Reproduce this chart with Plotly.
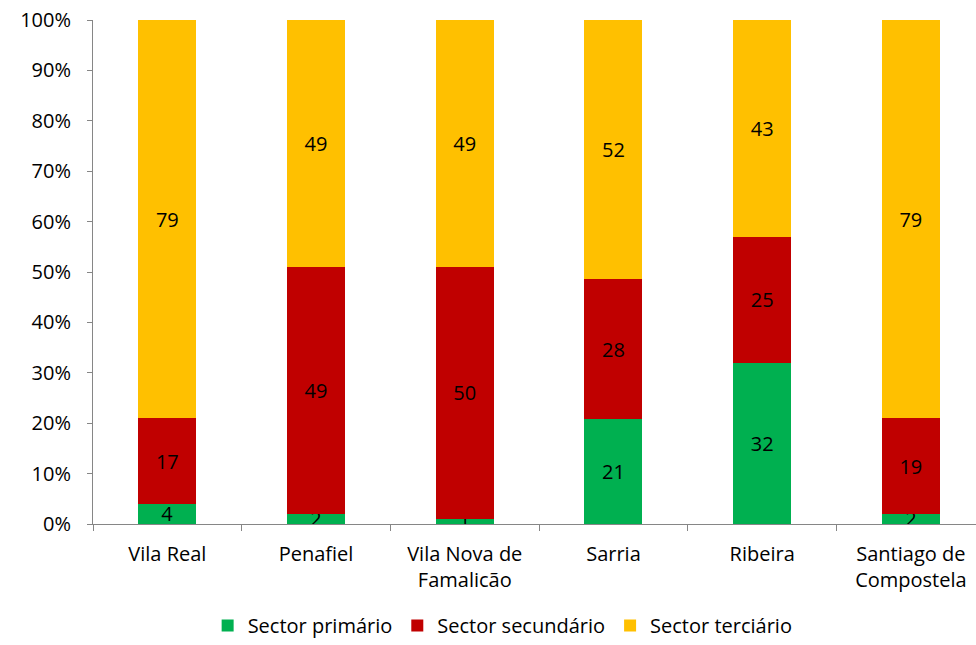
import plotly.graph_objects as go

categories = ["Vila Real", "Penafiel", "Vila Nova de<br>Famalicão", "Sarria", "Ribeira", "Santiago de<br>Compostela"]
primario = [4, 2, 1, 21, 32, 2]
secundario = [17, 49, 50, 28, 25, 19]
terciario = [79, 49, 49, 52, 43, 79]

series = [
    ("Sector primário", primario, "#00B050"),
    ("Sector secundário", secundario, "#C00000"),
    ("Sector terciário", terciario, "#FFC000"),
]

FONT = "Open Sans"
fig = go.Figure()
for name, vals, col in series:
    fig.add_trace(go.Bar(
        x=categories, y=vals, name=name, marker=dict(color=col, line=dict(width=0)),
        text=[str(v) for v in vals], textposition="inside", insidetextanchor="middle",
        textangle=0, constraintext="none",
        textfont=dict(family=FONT, size=20, color="#000000"), width=0.39,
    ))

fig.update_layout(
    barmode="stack", barnorm="percent",
    width=976, height=645,
    margin=dict(l=93, r=0, t=20, b=121, autoexpand=False),
    paper_bgcolor="white", plot_bgcolor="white",
    font=dict(family=FONT, size=20, color="#000000"),
    uniformtext=dict(minsize=20, mode="show"),
    showlegend=True,
    legend=dict(orientation="h", xref="container", yref="container",
                x=0.515, xanchor="center", y=0.0, yanchor="bottom",
                font=dict(family=FONT, size=20), traceorder="normal", itemwidth=30),
    xaxis=dict(range=[-0.5, 5.438], showline=True, linecolor="#868686", linewidth=1,
               ticks="outside", tickson="boundaries", ticklen=6, tickcolor="#868686",
               tickfont=dict(family=FONT, size=20), showgrid=False, ticklabelstandoff=12),
    yaxis=dict(range=[0, 100], showline=True, linecolor="#868686", linewidth=1,
               ticks="outside", ticklen=5, tickcolor="#868686", dtick=10,
               ticksuffix="%", showgrid=False, zeroline=False, ticklabelstandoff=12,
               tickfont=dict(family=FONT, size=20)),
)

fig.write_html("out.html")
